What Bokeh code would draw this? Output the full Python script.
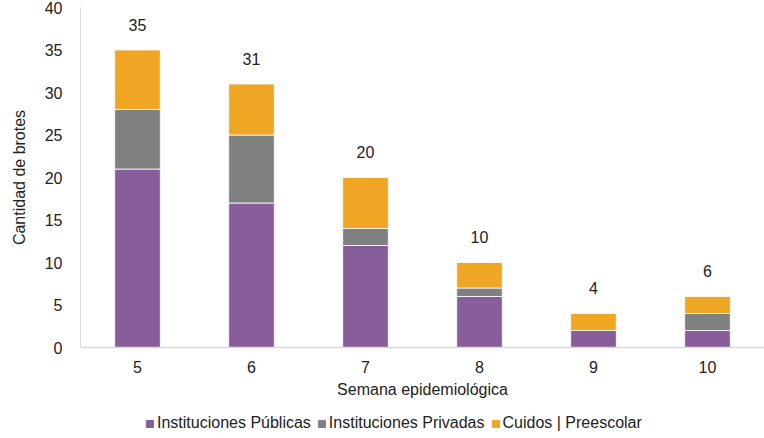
from bokeh.plotting import figure
from bokeh.models import ColumnDataSource, Range1d, Legend, LegendItem, FactorRange
from bokeh.layouts import column
from bokeh.embed import file_html
from bokeh.resources import INLINE
from bokeh.core.properties import value

weeks = ["5", "6", "7", "8", "9", "10"]
publicas = [21, 17, 12, 6, 2, 2]
privadas = [7, 8, 2, 1, 0, 2]
cuidos = [7, 6, 6, 3, 2, 2]
series = ["publicas", "privadas", "cuidos"]
series_labels = ["Instituciones Públicas", "Instituciones Privadas", "Cuidos | Preescolar"]
colors = ["#875E9A", "#808080", "#F0A625"]
y_ticks = [0, 5, 10, 15, 20, 25, 30, 35, 40]

totals = [a + b + c for a, b, c in zip(publicas, privadas, cuidos)]
source = ColumnDataSource(dict(weeks=weeks, publicas=publicas, privadas=privadas, cuidos=cuidos,
                               total=totals, label_y=[t + 3 for t in totals],
                               label=[str(t) for t in totals]))

FONT = "Liberation Sans"
FS = "16px"
TXT = "#222222"
p = figure(x_range=FactorRange(*weeks), y_range=Range1d(0, 40), width=764, height=412,
           output_backend="svg", toolbar_location=None,
           min_border_left=80, min_border_right=0, min_border_top=7, min_border_bottom=65)
p.outline_line_color = None
p.grid.grid_line_color = None

renderers = p.vbar_stack(series, x="weeks", width=0.4, color=colors, source=source,
                         line_color="white", line_width=0.8)

p.text(x="weeks", y="label_y", text="label", source=source, text_align="center",
       text_baseline="middle", text_font=value(FONT), text_font_size=FS, text_color=TXT)

p.yaxis.ticker = y_ticks
p.yaxis.axis_line_color = "#D9D9D9"
p.yaxis.major_tick_line_color = None
p.yaxis.minor_tick_line_color = None
p.yaxis.major_label_text_font = FONT
p.yaxis.major_label_text_font_size = FS
p.yaxis.major_label_text_color = TXT
p.yaxis.major_label_standoff = 12
p.yaxis.axis_label = "Cantidad de brotes"
p.yaxis.axis_label_text_font = FONT
p.yaxis.axis_label_text_font_size = FS
p.yaxis.axis_label_text_font_style = "normal"
p.yaxis.axis_label_text_color = TXT
p.yaxis.axis_label_standoff = 14

p.xaxis.axis_line_color = "#D9D9D9"
p.xaxis.axis_line_width = 1.5
p.xaxis.major_tick_line_color = None
p.xaxis.minor_tick_line_color = None
p.xaxis.major_label_text_font = FONT
p.xaxis.major_label_text_font_size = FS
p.xaxis.major_label_text_color = TXT
p.xaxis.major_label_standoff = 7
p.xaxis.axis_label = "Semana epidemiológica"
p.xaxis.axis_label_text_font = FONT
p.xaxis.axis_label_text_font_size = FS
p.xaxis.axis_label_text_font_style = "normal"
p.xaxis.axis_label_text_color = TXT
p.xaxis.axis_label_standoff = 5

# legend strip (swatch renderers sit outside the visible range)
lg = figure(width=764, height=26, x_range=Range1d(0, 1), y_range=Range1d(0, 1),
            x_axis_type=None, y_axis_type=None, output_backend="svg", toolbar_location=None,
            min_border_left=0, min_border_right=0, min_border_top=0, min_border_bottom=0)
lg.outline_line_color = None
lg.grid.grid_line_color = None
swatch_src = ColumnDataSource(dict(x=[-10], bottom=[-10], top=[-9]))
dummy = [lg.vbar(x="x", bottom="bottom", top="top", width=0.1, color=c, source=swatch_src)
         for c in colors]
items = [LegendItem(label=lab, renderers=[r]) for lab, r in zip(series_labels, dummy)]
legend = Legend(items=items, orientation="horizontal", location=(65, 6),
                glyph_width=9, glyph_height=9, label_standoff=3, spacing=6, padding=0,
                margin=0, border_line_color=None, background_fill_alpha=0,
                label_text_font=FONT, label_text_font_size=FS, label_text_color=TXT)
lg.add_layout(legend)

open("out.html", "w").write(file_html(column(p, lg, spacing=0), INLINE))
